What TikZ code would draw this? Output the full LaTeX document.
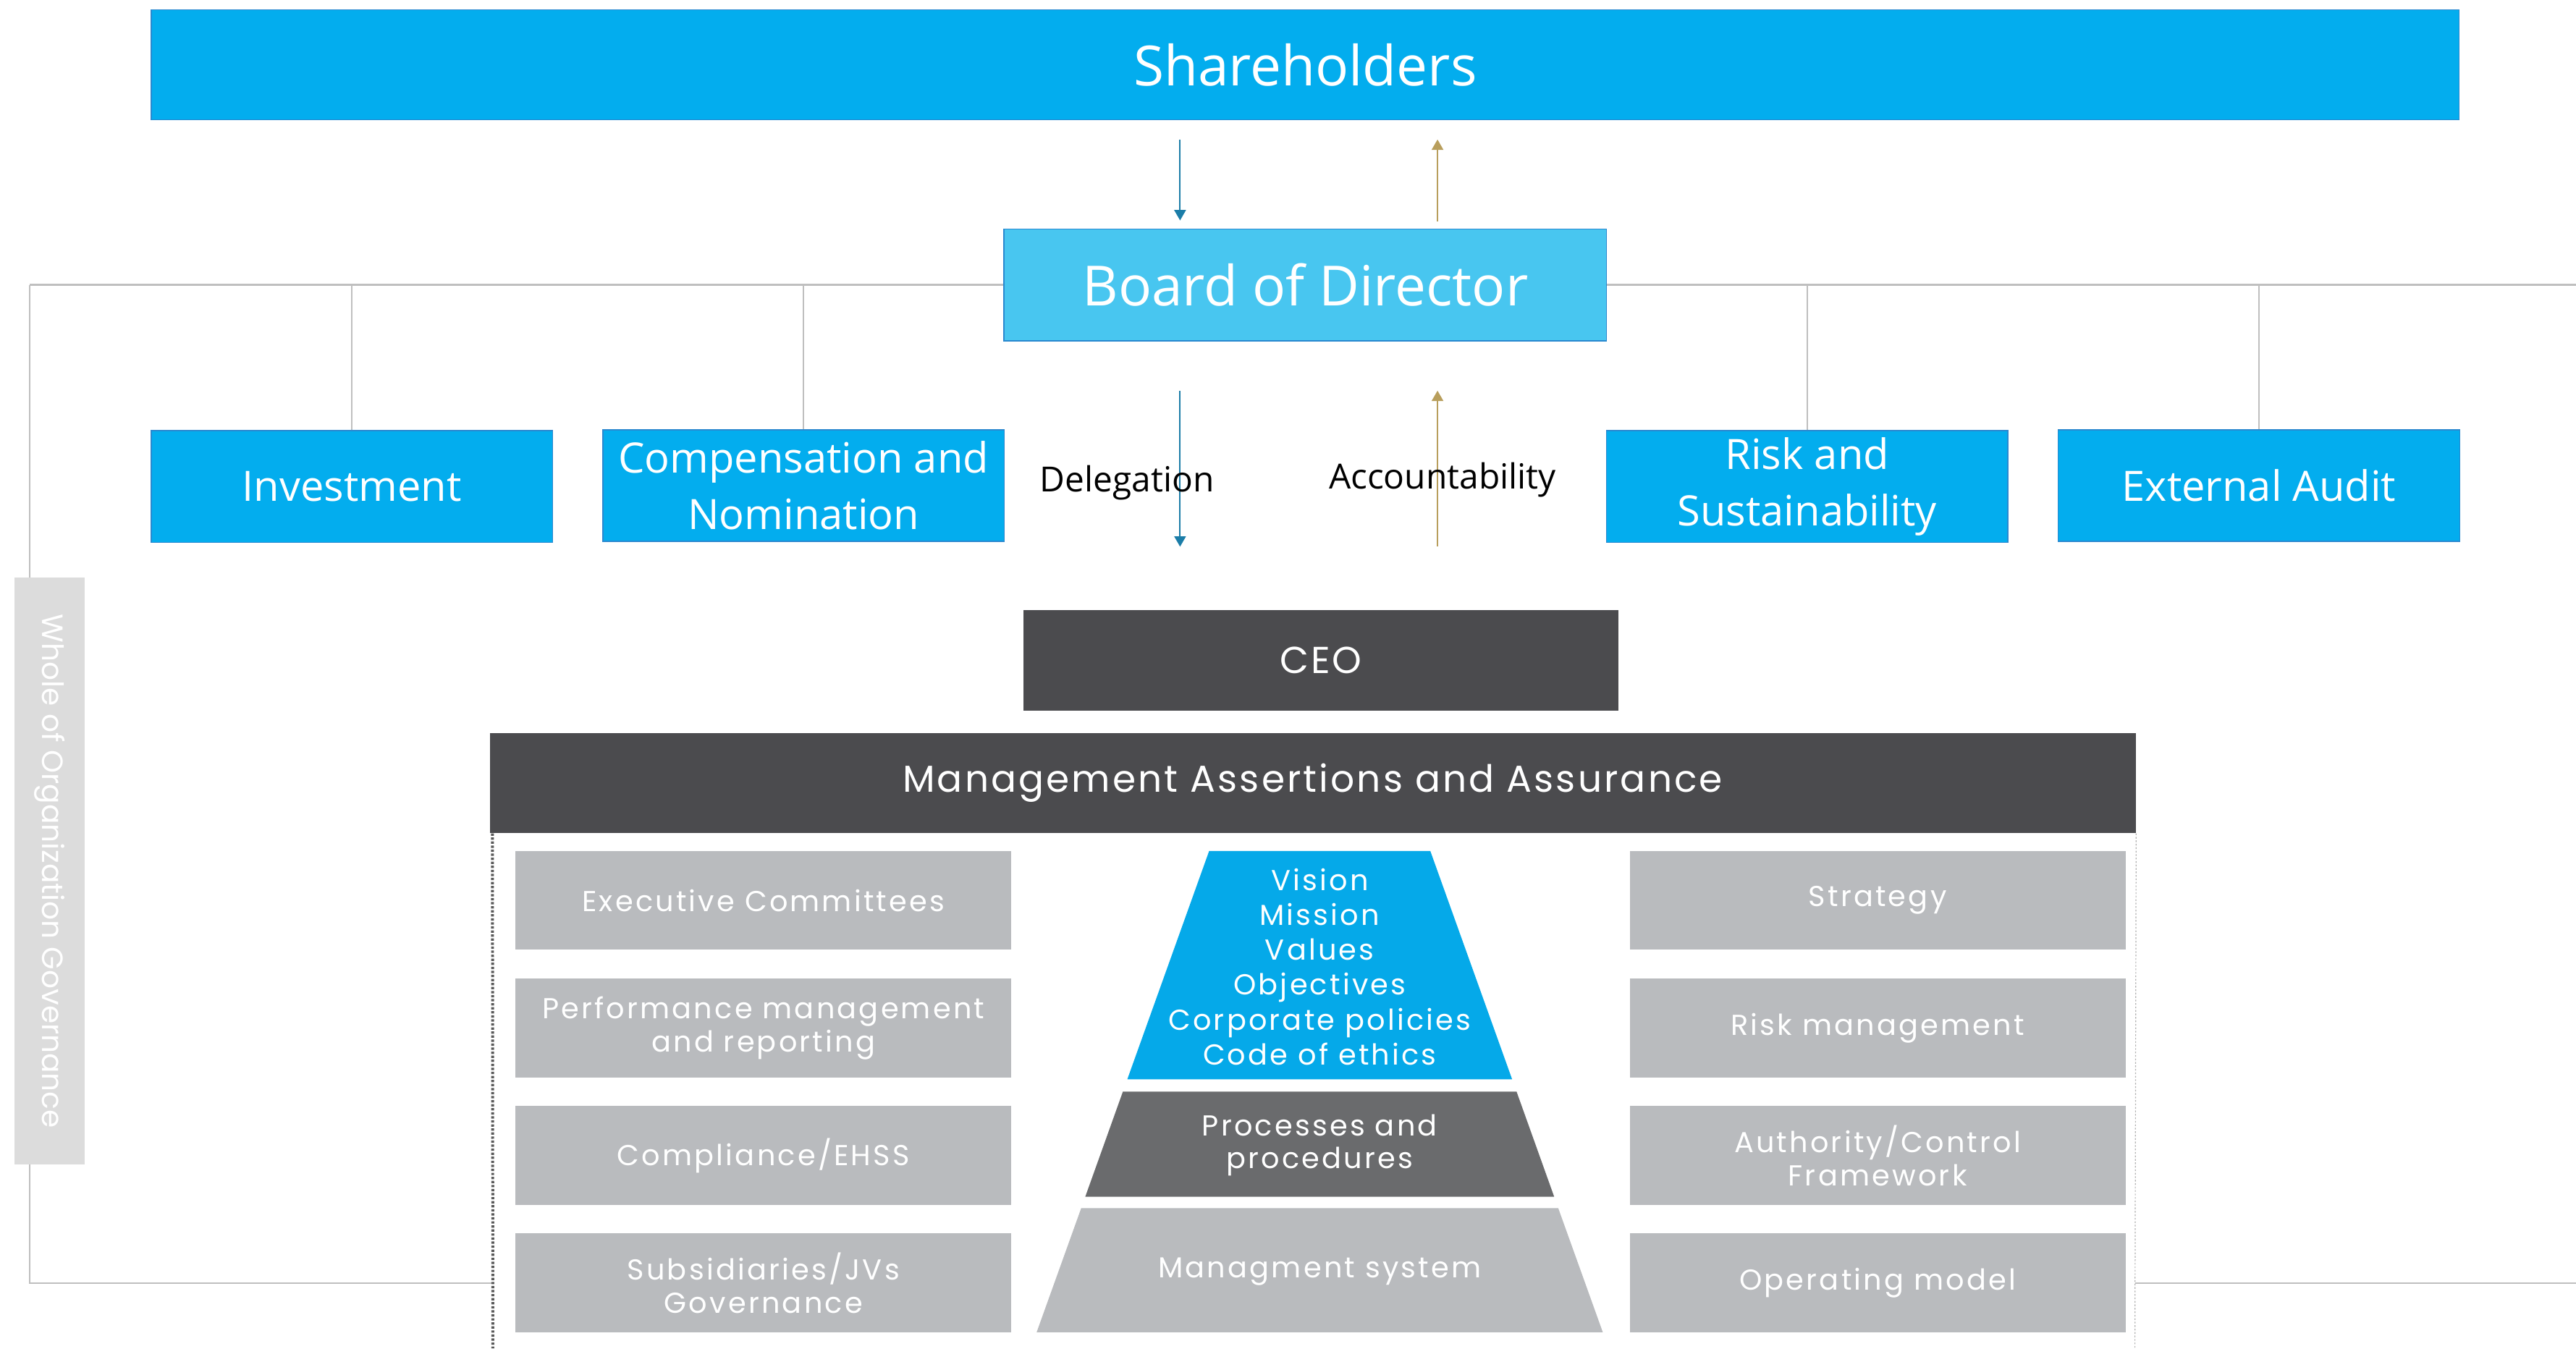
\documentclass[tikz,border=0pt]{standalone}
\usepackage{fontspec}
\setmainfont{Open Sans}
\newfontfamily\popfont[LetterSpace=8]{Poppins}
\newfontfamily\popwide[LetterSpace=6]{Poppins}
\newfontfamily\sidefont{Poppins}
\usetikzlibrary{arrows.meta,positioning,calc}
\definecolor{shblue}{HTML}{03ADEE}
\definecolor{brdblue}{HTML}{48C6F0}
\definecolor{edgeblue}{HTML}{2A88CF}
\definecolor{delblue}{HTML}{1B7DA8}
\definecolor{acctan}{HTML}{B89E5C}
\definecolor{linegray}{HTML}{BFBFBF}
\definecolor{darkbar}{HTML}{4B4B4E}
\definecolor{midbar}{HTML}{6A6B6D}
\definecolor{boxgray}{HTML}{B9BBBE}
\definecolor{labelgray}{HTML}{DCDCDC}
\definecolor{pyrblue}{HTML}{05A9E9}

\begin{document}
\begin{tikzpicture}[x=0.02cm,y=-0.02cm,
    topbox/.style={draw=edgeblue,line width=0.4pt,fill=shblue,text=white,inner sep=0pt,align=center,font=\fontsize{19.2}{23}\selectfont},
    committee/.style={draw=edgeblue,line width=0.4pt,fill=shblue,text=white,inner sep=0pt,align=center,minimum width=4.89cm,minimum height=1.36cm,font=\fontsize{14.5}{19.4}\selectfont},
    darkbox/.style={fill=darkbar,text=white,inner sep=0pt,align=center,font=\popwide\fontsize{13}{15}\selectfont},
    graybox/.style={fill=boxgray,text=white,inner sep=0pt,align=center,minimum width=6.036cm,minimum height=1.204cm,font=\popfont\fontsize{10}{11.6}\selectfont},
    pyrtext/.style={text=white,inner sep=0pt,align=center,font=\popfont\fontsize{10}{12.1}\selectfont},
    link/.style={draw=linegray,line width=0.5pt},
    delarrow/.style={draw=delblue,line width=0.5pt,-{Triangle[width=4pt,length=3.6pt]}},
    accarrow/.style={draw=acctan,line width=0.5pt,-{Triangle[width=4pt,length=3.6pt]}},
    flowlabel/.style={text=black,inner sep=0pt,font=\fontsize{12}{14}\selectfont}
  ]
    \useasboundingbox (0,0) rectangle (1568,820.8);

    % Owners and board
    \node[topbox,minimum width=28.1cm,minimum height=1.34cm] (share) at (794.5,39.5) {Shareholders};
    \node[topbox,fill=brdblue,minimum width=7.334cm,minimum height=1.362cm] (board) at (794.5,173.5) {Board of Director};

    % Board committees
    \node[committee] (invest) at (214.2,296.2) {Investment};
    \node[committee] (comp) at (489.1,295.6) {Compensation and\\Nomination};
    \node[committee] (risk) at (1100,296.2) {Risk and\\Sustainability};
    \node[committee] (audit) at (1375,295.6) {External Audit};

    % Committee links to the board line
    \coordinate (lcorner) at (18,173.5);
    \coordinate (lfoot) at (18,781);
    \coordinate (lend) at (300,781);
    \coordinate (rstart) at (1299.5,781);
    \coordinate (redge) at (1568,781);
    \coordinate (rtop) at (1568,173.5);
    \draw[link,line width=0.7pt] (board.west) -- (lcorner);
    \draw[link,line width=0.7pt] (board.east) -- (rtop);
    \draw[link] (lcorner) -- (lfoot) -- (lend);
    \draw[link] (rstart) -- (redge);
    \foreach \c in {invest,comp,risk,audit}
      \draw[link] (\c.north) -- (\c.north |- board.west);

    % Delegation and accountability arrows
    \coordinate (dtop) at (718.3,84.9);
    \coordinate (atop) at (875,134.6);
    \coordinate (dlow) at (718.3,237.8);
    \coordinate (alow) at (875,332.8);
    \draw[delarrow,shorten >=2.8pt] (dtop) -- (dtop |- board.north);
    \draw[accarrow] (atop) -- (atop |- dtop);
    \draw[delarrow] (dlow) -- (dlow |- alow);
    \draw[accarrow] (alow) -- (alow |- dlow);
    \node[flowlabel] (deleg) at (686,294) {Delegation};
    \node[flowlabel] (acct) at (878,292) {Accountability};

    % Side label
    \node[fill=labelgray,minimum width=0.854cm,minimum height=7.148cm,inner sep=0pt] (side) at (30.15,530.3) {};
    \node[rotate=-90,text=white,inner sep=0pt,font=\sidefont\fontsize{10.2}{12}\selectfont] (sidetext) at (side.center) {Whole of Organization Governance};

    % Management block
    \node[darkbox,minimum width=7.24cm,minimum height=1.22cm] (ceo) at (804,402) {CEO};
    \node[darkbox,minimum width=20.04cm,minimum height=1.216cm] (maa) at (799,476.6) {Management Assertions and Assurance};
    \draw[draw=black!65,line width=1pt,dash pattern=on 0.8pt off 0.6pt] (maa.south west) ++(2,0) -- (300,820.8);
    \draw[draw=gray!60,line width=0.3pt,dash pattern=on 0.6pt off 0.6pt] (maa.south east) -- (1299.5,820.8);

    % Left and right columns
    \node[graybox] (exec) at (464.7,548.1) {Executive Committees};
    \node[graybox] (perf) at (464.7,625.8) {Performance management\\and reporting};
    \node[graybox] (compl) at (464.7,703.4) {Compliance/EHSS};
    \node[graybox] (subs) at (464.7,781) {Subsidiaries/JVs\\Governance};
    \node[graybox] (strat) at (1142.9,548.1) {Strategy};
    \node[graybox] (riskm) at (1142.9,625.8) {Risk management};
    \node[graybox] (auth) at (1142.9,703.4) {Authority/Control\\Framework};
    \node[graybox] (opmod) at (1142.9,781) {Operating model};

    % Pyramid
    \fill[pyrblue] (736,518) -- (870.6,518) -- (920.4,657) -- (686.2,657) -- cycle;
    \fill[midbar] (683.5,664.5) -- (923.1,664.5) -- (946,728.5) -- (660.6,728.5) -- cycle;
    \fill[boxgray] (658.1,735.5) -- (948.5,735.5) -- (975.6,811) -- (631,811) -- cycle;
    \node[pyrtext] (vision) at (803.3,588.5) {Vision\\Mission\\Values\\Objectives\\Corporate policies\\Code of ethics};
    \node[pyrtext,font=\popfont\fontsize{10}{11.3}\selectfont] (proc) at (803.3,697) {Processes and\\procedures};
    \node[pyrtext] (msys) at (803.3,774) {Managment system};
\end{tikzpicture}
\end{document}
